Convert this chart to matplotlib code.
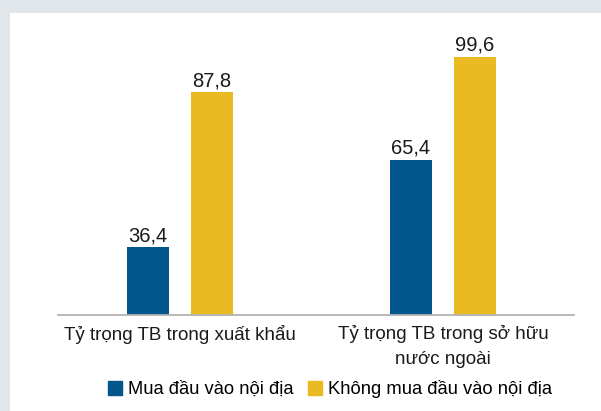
import matplotlib
matplotlib.use("Agg")
import matplotlib.pyplot as plt
from matplotlib.patches import Rectangle
import numpy as np

categories = ["Tỷ trọng TB trong xuất khẩu", "Tỷ trọng TB trong sở hữu\nnước ngoài"]
series_names = ["Mua đầu vào nội địa", "Không mua đầu vào nội địa"]
mua = [36.4, 65.4]
khong_mua = [87.8, 99.6]
value_labels_mua = ["36,4", "65,4"]
value_labels_khong = ["87,8", "99,6"]

colors = ["#02568B", "#E9BA22"]
bg = "#E1E6EA"

plt.rcParams['font.family'] = ['Liberation Sans Narrow', 'Liberation Sans', 'DejaVu Sans']

W, H = 601, 411
fig = plt.figure(figsize=(W / 100, H / 100), dpi=100, facecolor=bg)
fig.patches.append(Rectangle((10 / W, 0), 1 - 10 / W, (H - 13) / H,
                             transform=fig.transFigure, facecolor="white",
                             edgecolor="none", zorder=-10))

ax_left, ax_right = 57.7, 573.7
ax_top, ax_bottom = 13, 314.5
ax = fig.add_axes([ax_left / W, (H - ax_bottom) / H,
                   (ax_right - ax_left) / W, (ax_bottom - ax_top) / H])
ax.set_facecolor("none")
ax.set_zorder(5)

x = np.arange(len(categories))
bw = 0.16
off = 0.122
b1 = ax.bar(x - off, mua, bw, color=colors[0], label=series_names[0])
b2 = ax.bar(x + off, khong_mua, bw, color=colors[1], label=series_names[1])

ax.set_ylim(14.2, 114.0)
ax.set_xlim(-0.465, 1.497)

for bars, labs in [(b1, value_labels_mua), (b2, value_labels_khong)]:
    for rect, lab in zip(bars, labs):
        ax.annotate(lab, (rect.get_x() + rect.get_width() / 2, rect.get_height()),
                    xytext=(0, 4.3), textcoords="offset points",
                    ha="center", va="baseline", fontsize=14.5, color="#1a1a1a")

for s in ["top", "right", "left"]:
    ax.spines[s].set_visible(False)
ax.spines["bottom"].set_color("#b3b3b3")
ax.spines["bottom"].set_linewidth(1.3)
ax.set_yticks([])
ax.set_xticks(x)
ax.set_xticklabels(categories, fontsize=13.5, color="#1a1a1a", linespacing=1.65)
ax.tick_params(axis="x", length=0, pad=7.5)

handles = [plt.Line2D([], [], marker="s", linestyle="none", markersize=10,
                      markerfacecolor=c, markeredgecolor=c) for c in colors]
fig.legend(handles, series_names, loc="center", bbox_to_anchor=(330 / W, (H - 389) / H),
           ncol=2, frameon=False, fontsize=13.2, handletextpad=0.3, columnspacing=0.8,
           handlelength=0.8)

fig.savefig("out.png", dpi=100, facecolor=bg)
